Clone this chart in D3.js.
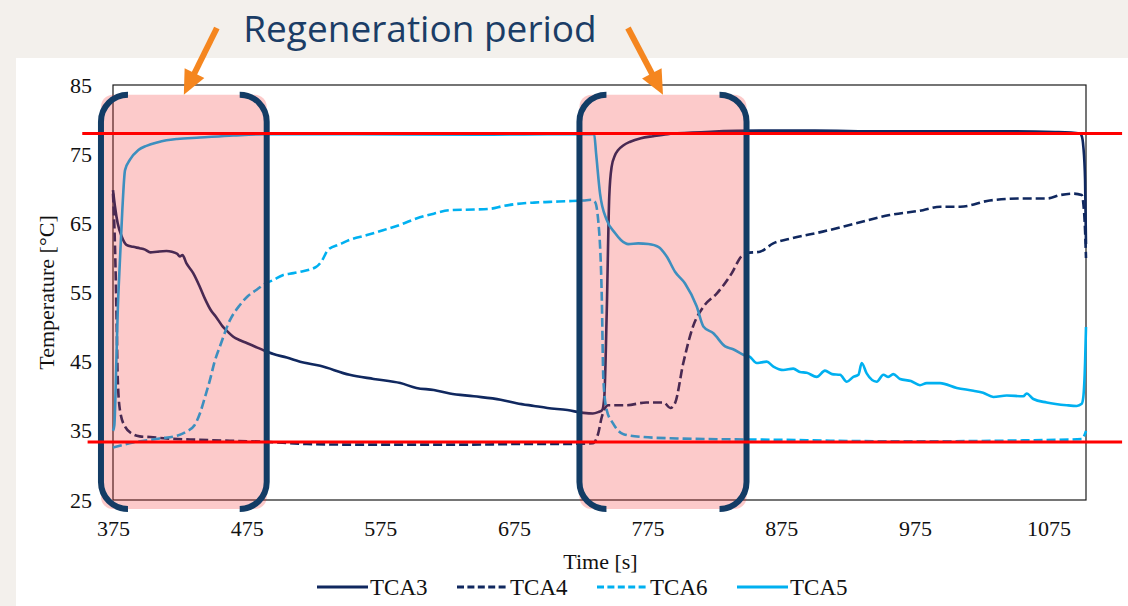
<!DOCTYPE html>
<html>
<head>
<meta charset="utf-8">
<script src="https://cdn.jsdelivr.net/npm/d3@7"></script>
<style>
  html, body { margin: 0; padding: 0; background: #f3f0ec; }
  svg { display: block; }
</style>
</head>
<body>
<div id="chart"></div>
<script>
// time [s], temperature [°C]
var tca3 = [[375,69.8],[376.5,67.4],[378.5,65],[381.5,63.1],[385,61.9],[390,61.6],[395,61.4],[399,61.2],[403,60.8],[408,60.9],[415,61.0],[419,60.9],[423,60.6],[425,60.2],[427,60.4],[430,59.2],[435,57.8],[440,55.8],[444,54],[448,52.5],[452,51.5],[457,50.1],[461,49.3],[465,48.6],[470,48.1],[475,47.7],[481,47.2],[487,46.7],[495,46.1],[505,45.6],[515,45.0],[530,44.4],[552,43.1],[570,42.5],[590,41.9],[602,41.2],[615,40.9],[627,40.4],[645,40.0],[665,39.5],[677,39.0],[690,38.6],[700,38.3],[715,38.0],[727,37.6],[734,37.5],[738,37.7],[741,38.0],[742.6,39.9],[744.4,52],[746.3,68.9],[748.1,73.2],[750.5,74.8],[753,75.6],[757,76.3],[762,76.8],[770,77.3],[779,77.6],[790,77.9],[797,78.0],[822,78.25],[859,78.4],[900,78.4],[950,78.3],[1000,78.3],[1050,78.3],[1080,78.2],[1098.5,78.0],[1100,77.5],[1101,76.1],[1102.3,71.3],[1103,62]];
var tca4 = [[375,69.3],[376.5,61.6],[377.8,50],[378.5,42.8],[380.2,38.0],[384,35.6],[390,34.5],[395,34.2],[403,34.1],[415,33.9],[440,33.7],[490,33.4],[520,33.1],[560,33.0],[600,33.0],[640,33.0],[680,33.1],[710,33.1],[734,33.2],[738,34.6],[740.7,37.0],[745.6,38.7],[759,38.7],[774,39.1],[787,39.1],[792,38.3],[795.5,39.0],[801.7,44.8],[809,50.1],[817,53.0],[827,54.9],[838,57.8],[845,60.2],[849,60.7],[859,60.9],[869,62.1],[882,62.8],[906,63.8],[931,65.0],[956,66.2],[981,66.9],[994,67.4],[1009,67.4],[1031,68.3],[1056,68.6],[1074,68.6],[1084,69.1],[1093.5,69.3],[1099.8,69.1],[1101,67.9],[1102.3,64.0],[1103,60]];
var tca6 = [[375,32.6],[390,33.3],[410,33.9],[423,34.3],[430,34.9],[436,35.8],[440,37.5],[444,40],[447.6,42.4],[451,45],[455,47.2],[462.5,51.0],[470,53.2],[476,54.5],[482.5,55.4],[489,56.3],[495,56.8],[502,57.5],[510,57.8],[515,58.0],[527,58.7],[531,59.5],[536,61.2],[545,62],[552,62.6],[565,63.3],[577,64.0],[590,64.8],[602,65.7],[615,66.4],[627,66.9],[645,67.0],[657,67.1],[667,67.5],[677,67.8],[690,68.0],[702,68.1],[715,68.2],[727,68.3],[733,68.4],[735.6,68.1],[738,65.5],[740.7,54.4],[741.9,42.4],[744.4,38.0],[749,36.1],[757,34.5],[772,34.1],[797,33.9],[874,33.7],[950,33.5],[1000,33.5],[1050,33.6],[1099.8,33.8],[1102.3,34.6],[1103,35]];
var tca5 = [[375,35.0],[376,35.8],[377.5,45],[378.5,52],[380.2,59.7],[382,67],[384,72.7],[387.7,74.2],[394,75.6],[400,76.2],[408,76.7],[415,77.0],[423,77.2],[440,77.4],[465,77.7],[490,77.9],[550,77.9],[650,77.8],[700,77.9],[735,77.9],[736.5,75],[739.4,69.3],[744.4,65.5],[750.6,63.6],[755,62.6],[760.6,62.0],[768,62.1],[775.5,62.0],[783,61.6],[789.3,60.2],[795.5,58.0],[803,56.3],[811.7,53.0],[816.7,50.1],[824.2,49.1],[833,47.2],[839,46.8],[846.6,46.0],[851.6,45.7],[856.6,44.8],[860,44.9],[864.1,45.0],[869.1,44.3],[876.5,43.8],[884,44.0],[889,43.5],[894,43.4],[901.5,42.8],[907.7,43.7],[913,43.2],[919,43.1],[924,42.1],[928.9,42.8],[932.7,43.1],[935.2,44.8],[938.9,43.3],[946.4,42.1],[951.4,43.1],[955.1,42.8],[958.8,43.2],[963.9,42.5],[972,42.2],[978.8,41.6],[983.8,41.9],[993.8,41.9],[1006.3,41.2],[1018.7,40.8],[1026,40.5],[1033.7,39.9],[1043.7,40.1],[1056.1,40.0],[1058.6,40.4],[1063.6,39.6],[1073.6,39.1],[1088.6,38.7],[1096.1,38.6],[1099.8,38.9],[1101,39.9],[1102.3,44.8],[1103,50]];

var xTicks = [375, 475, 575, 675, 775, 875, 975, 1075];
var yTicks = [25, 35, 45, 55, 65, 75, 85];

// regeneration periods [start, end] in s, and the band they cover in °C
var regenPeriods = [[366, 490], [724, 849]];
var regenBand = [23.7, 83.6];
// set-point lines in °C, drawn across [from, to] s
var refTemps = [78.0, 33.4];
var refSpan = [[352, 1130], [356, 1130]];

var seriesNames = ['TCA3', 'TCA4', 'TCA6', 'TCA5'];
var seriesData = [tca3, tca4, tca6, tca5];
var seriesColors = ['#10285f', '#10285f', '#00b0f0', '#00b0f0'];
var seriesDashed = [false, true, true, false];

var W = 1128, H = 606;
var margin = {top: 85, right: 42, bottom: 106, left: 113},
    width = W - margin.left - margin.right,
    height = H - margin.top - margin.bottom;

var svg = d3.select('#chart').append('svg').attr('width', W).attr('height', H);

// white panel over the beige slide
svg.append('rect').attr('x', 16).attr('y', 58).attr('width', W - 16).attr('height', H - 58).attr('fill', '#ffffff');

var x = d3.scaleLinear().domain([375, 1103]).range([margin.left, margin.left + width]);
var y = d3.scaleLinear().domain([25, 85]).range([margin.top + height, margin.top]);

var serif = '"Liberation Serif", "Times New Roman", serif';

svg.append('rect')
    .attr('x', x.range()[0]).attr('y', y.range()[1])
    .attr('width', width).attr('height', height)
    .attr('fill', 'none').attr('stroke', '#1a1a1a').attr('stroke-width', 1.2);

var xAxis = d3.axisBottom(x).tickValues(xTicks).tickFormat(d3.format('d')).tickSize(0).tickPadding(0);
var gx = svg.append('g').attr('transform', 'translate(0,' + (margin.top + height) + ')').call(xAxis);
gx.select('.domain').remove();
gx.selectAll('text').attr('font-family', serif).attr('font-size', 22).attr('fill', '#111')
    .attr('dy', null).attr('y', 36);

var yAxis = d3.axisLeft(y).tickValues(yTicks).tickFormat(d3.format('d')).tickSize(0).tickPadding(21);
var gy = svg.append('g').attr('transform', 'translate(' + margin.left + ',0)').call(yAxis);
gy.select('.domain').remove();
gy.selectAll('text').attr('font-family', serif).attr('font-size', 22).attr('fill', '#111');

svg.append('text')
    .attr('x', x.range()[0] + width / 2 + 1).attr('y', 569)
    .attr('text-anchor', 'middle').attr('font-family', serif).attr('font-size', 22).attr('fill', '#111')
    .text('Time [s]');

svg.append('text')
    .attr('transform', 'translate(54,' + (margin.top + height / 2) + ') rotate(-90)')
    .attr('text-anchor', 'middle').attr('font-family', serif).attr('font-size', 22).attr('fill', '#111')
    .text('Temperature [°C]');

var line = d3.line().x(function(d) { return x(d[0]); }).y(function(d) { return y(d[1]); })
    .curve(d3.curveMonotoneX);

seriesData.forEach(function(data, i) {
    svg.append('path').datum(data)
        .attr('d', line)
        .attr('fill', 'none')
        .attr('stroke', seriesColors[i])
        .attr('stroke-width', 2.6)
        .attr('stroke-linejoin', 'round')
        .attr('stroke-dasharray', seriesDashed[i] ? '9,4' : null);
});

// regeneration bands: pink wash over the lines, then navy brackets
var r = 27;
regenPeriods.forEach(function(p) {
    var x0 = x(p[0]), x1 = x(p[1]), y0 = y(regenBand[1]), y1 = y(regenBand[0]);
    svg.append('rect').attr('x', x0).attr('y', y0).attr('width', x1 - x0).attr('height', y1 - y0)
        .attr('rx', 12).attr('fill', 'rgba(243,43,43,0.25)');
    var left = 'M' + (x0 + r) + ',' + y0 + ' A' + r + ',' + r + ' 0 0 0 ' + x0 + ',' + (y0 + r) +
        ' L' + x0 + ',' + (y1 - r) + ' A' + r + ',' + r + ' 0 0 0 ' + (x0 + r) + ',' + y1;
    var right = 'M' + (x1 - r) + ',' + y0 + ' A' + r + ',' + r + ' 0 0 1 ' + x1 + ',' + (y0 + r) +
        ' L' + x1 + ',' + (y1 - r) + ' A' + r + ',' + r + ' 0 0 1 ' + (x1 - r) + ',' + y1;
    [left, right].forEach(function(d) {
        svg.append('path').attr('d', d).attr('fill', 'none').attr('stroke', '#133c65').attr('stroke-width', 6);
    });
});

refTemps.forEach(function(t, i) {
    svg.append('line')
        .attr('x1', x(refSpan[i][0])).attr('x2', x(refSpan[i][1]))
        .attr('y1', y(t)).attr('y2', y(t))
        .attr('stroke', '#ff0000').attr('stroke-width', 3);
});

// orange arrows pointing at the middle of each band
regenPeriods.forEach(function(p, i) {
    var tipX = x((p[0] + p[1]) / 2), tipY = y(regenBand[1]);
    var tailX = tipX + (i === 0 ? 33 : -35), tailY = 28;
    var dx = tipX - tailX, dy = tipY - tailY, len = Math.sqrt(dx * dx + dy * dy);
    var ux = dx / len, uy = dy / len, hl = 24, hw = 11;
    var bx = tipX - ux * hl, by = tipY - uy * hl;
    svg.append('line').attr('x1', tailX).attr('y1', tailY).attr('x2', bx + ux * 2).attr('y2', by + uy * 2)
        .attr('stroke', '#f5861f').attr('stroke-width', 6);
    svg.append('path')
        .attr('d', 'M' + tipX + ',' + tipY + ' L' + (bx - uy * hw) + ',' + (by + ux * hw) +
            ' L' + (bx + uy * hw) + ',' + (by - ux * hw) + 'Z')
        .attr('fill', '#f5861f');
});

svg.append('text')
    .attr('x', 420).attr('y', 42)
    .attr('text-anchor', 'middle').attr('font-family', '"Open Sans", "Noto Sans", sans-serif')
    .attr('font-size', 37).attr('fill', '#1b3d66')
    .text('Regeneration period');

// legend
var legend = svg.selectAll('.legend').data(seriesNames).enter().append('g').attr('class', 'legend')
    .attr('transform', function(d, i) { return 'translate(' + (317 + i * 140) + ',587)'; });
legend.append('line').attr('x1', 0).attr('x2', 51).attr('y1', 0).attr('y2', 0)
    .attr('stroke', function(d, i) { return seriesColors[i]; })
    .attr('stroke-width', 3)
    .attr('stroke-dasharray', function(d, i) { return seriesDashed[i] ? '7,3.4' : null; });
legend.append('text').attr('x', 53).attr('y', 7.5)
    .attr('font-family', serif).attr('font-size', 23).attr('fill', '#111')
    .text(function(d) { return d; });
</script>
</body>
</html>
